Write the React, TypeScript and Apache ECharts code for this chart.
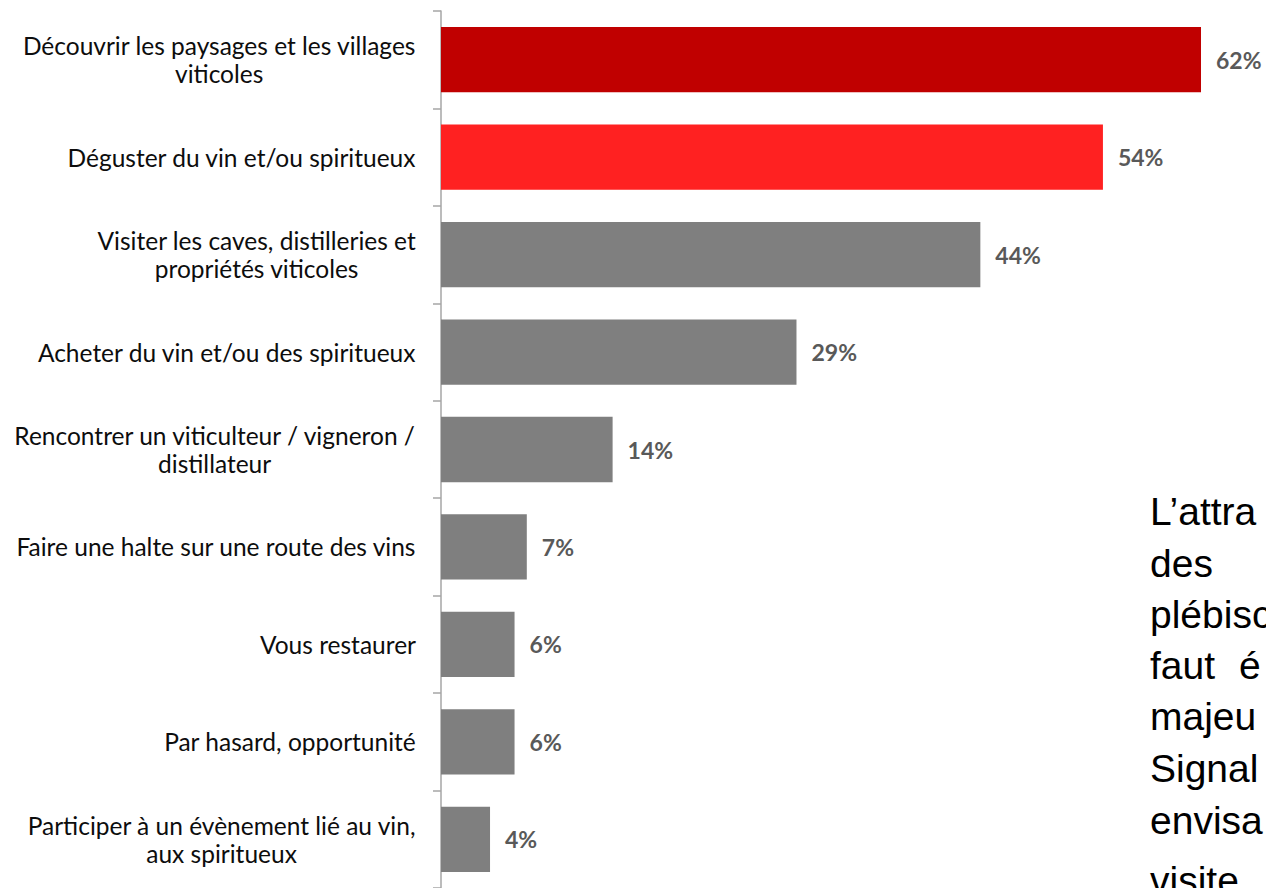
import React, { useEffect, useRef } from "react";
import * as echarts from "echarts";

const categories = [
  "Découvrir les paysages et les villages\nviticoles",
  "Déguster du vin et/ou spiritueux",
  "Visiter les caves, distilleries et\npropriétés viticoles",
  "Acheter du vin et/ou des spiritueux",
  "Rencontrer un viticulteur / vigneron /\ndistillateur",
  "Faire une halte sur une route des vins",
  "Vous restaurer",
  "Par hasard, opportunité",
  "Participer à un évènement lié au vin,\naux spiritueux",
];
const values = [62, 54, 44, 29, 14, 7, 6, 6, 4];
const sideTextLines = ["L’attra", "des", "plébisc", "faut", "majeu", "Signal", "envisa", "visite"];

export default function App() {
  const ref = useRef<HTMLDivElement>(null);
  useEffect(() => {
    if (!ref.current) return;
    const chart = echarts.init(ref.current, null, { renderer: "svg" });
    const colorFor = (i: number) => (i === 0 ? "#C00000" : i === 1 ? "#FF2121" : "#7F7F7F");
    const baselines = [524, 576, 627, 678, 729, 781, 833, 893];
    const sideFont = '39px "Liberation Sans"';
    const sideGraphics: any[] = sideTextLines.map((t, i) => ({
      type: "text",
      style: {
        text: t,
        x: 1150,
        y: baselines[i] - 13,
        font: sideFont,
        fill: "#000000",
        verticalAlign: "middle",
      },
    }));
    sideGraphics.push({
      type: "text",
      style: {
        text: "é",
        x: 1239,
        y: baselines[3] - 13,
        font: sideFont,
        fill: "#000000",
        verticalAlign: "middle",
      },
    });
    chart.setOption({
      animation: false,
      backgroundColor: "#ffffff",
      grid: { left: 441, top: 11, width: 760, height: 882, containLabel: false },
      xAxis: {
        type: "value",
        min: 0,
        max: 62,
        show: false,
      },
      yAxis: {
        type: "category",
        data: categories,
        inverse: true,
        axisLine: { show: true, lineStyle: { color: "#A6A6A6", width: 1.5 } },
        axisTick: { show: true, length: 8, lineStyle: { color: "#A6A6A6", width: 1.5 } },
        axisLabel: {
          margin: 25,
          formatter: (v: string) => v.split("\n").map((l) => `{c|${l}}`).join("\n"),
          rich: {
            c: {
              align: "center",
              fontFamily: "Lato",
              fontSize: 24.5,
              lineHeight: 28,
              color: "#0D0D0D",
            },
          },
        },
      },
      series: [
        {
          type: "bar",
          data: values.map((v, i) => ({ value: v, itemStyle: { color: colorFor(i) } })),
          barCategoryGap: "33%",
          label: {
            show: true,
            position: "right",
            distance: 15,
            formatter: "{c}%",
            fontFamily: "Lato",
            fontWeight: "bold",
            fontSize: 23,
            color: "#595959",
          },
        },
      ],
      graphic: sideGraphics,
    });
    return () => chart.dispose();
  }, []);
  return (
    <div
      ref={ref}
      style={{ position: "absolute", left: 0, top: 0, width: 1266, height: 888, overflow: "hidden" }}
    />
  );
}
